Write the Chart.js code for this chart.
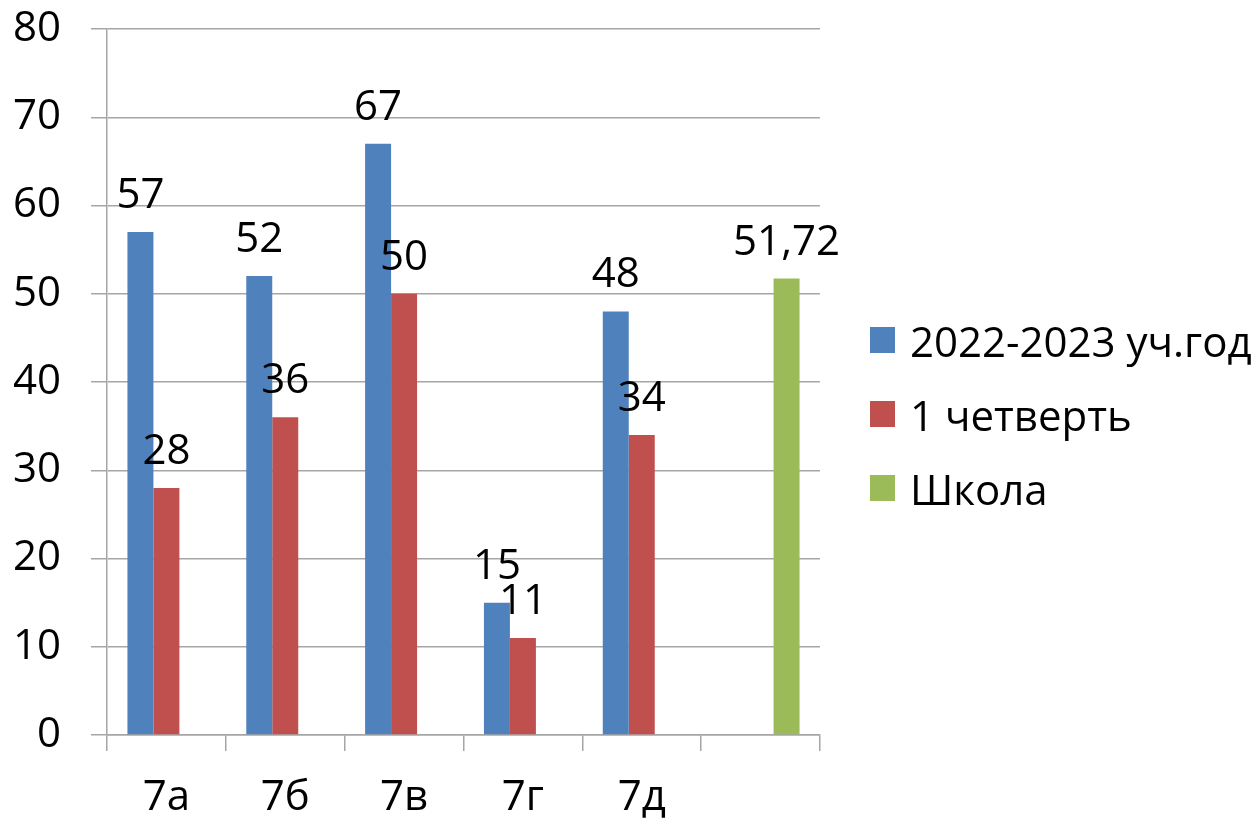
<!DOCTYPE html>
<html>
<head>
<meta charset="utf-8">
<script src="https://cdn.jsdelivr.net/npm/chart.js@4"></script>
<style>
  body { margin: 0; background: #fff; }
  #wrap { position: relative; width: 1259px; height: 820px; }
  #legend { position: absolute; left: 870px; top: 303px; font-family: "Open Sans", sans-serif; font-size: 42px; color: #000; }
  .item { display: flex; align-items: center; height: 74px; white-space: nowrap; }
  .box { width: 25px; height: 26px; margin-right: 15px; }
</style>
</head>
<body>
<div id="wrap">
  <canvas id="chart" width="1259" height="820"></canvas>
  <div id="legend"></div>
</div>
<script>
// данные диаграммы
const categories = ['7а', '7б', '7в', '7г', '7д', ''];
const yearValues = [57, 52, 67, 15, 48, null];
const quarterValues = [28, 36, 50, 11, 34, null];
const schoolValues = [null, null, null, null, null, 51.72];
const seriesNames = ['2022-2023 уч.год', '1 четверть', 'Школа'];
const seriesColors = ['#4F81BD', '#C0504D', '#9BBB59'];

const FONT = { family: '"Open Sans", sans-serif', size: 42 };
const GRID = '#A6A6A6';

// подписи значений над столбцами
const valueLabels = {
    id: 'valueLabels',
    afterDatasetsDraw(chart) {
        const ctx = chart.ctx;
        ctx.save();
        ctx.font = `${FONT.size}px ${FONT.family}`;
        ctx.fillStyle = '#000';
        ctx.textAlign = 'center';
        ctx.textBaseline = 'alphabetic';
        chart.data.datasets.forEach((ds, i) => {
            chart.getDatasetMeta(i).data.forEach((bar, j) => {
                const v = ds.data[j];
                if (v === null) return;
                ctx.fillText(String(v).replace('.', ','), bar.x, bar.y - 24);
            });
        });
        ctx.restore();
    }
};

new Chart(document.getElementById('chart'), {
    type: 'bar',
    data: {
        labels: categories,
        datasets: [
            { label: seriesNames[0], data: yearValues, backgroundColor: seriesColors[0] },
            { label: seriesNames[1], data: quarterValues, backgroundColor: seriesColors[1] },
            { label: seriesNames[2], data: schoolValues, backgroundColor: seriesColors[2] }
        ]
    },
    options: {
        responsive: false,
        animation: false,
        layout: { padding: { left: 14, right: 439, top: 29, bottom: 0 } },
        datasets: { bar: { categoryPercentage: 0.656, barPercentage: 1 } },
        plugins: { legend: { display: false }, tooltip: { enabled: false } },
        scales: {
            x: {
                afterFit: (scale) => { scale.height = 85; scale.paddingLeft = 0; scale.paddingRight = 0; },
                grid: { offset: true, drawOnChartArea: false, color: GRID, lineWidth: 1.5, tickLength: 16 },
                border: { color: GRID, width: 1.5 },
                ticks: { font: FONT, color: '#000', padding: 22 }
            },
            y: {
                min: 0, max: 80,
                afterFit: (scale) => { scale.width = 93; scale.paddingTop = 0; scale.paddingBottom = 0; },
                grid: { color: GRID, lineWidth: 1.5, tickLength: 16 },
                border: { color: GRID, width: 1.5 },
                ticks: { stepSize: 10, font: FONT, color: '#000', padding: 30 }
            }
        }
    },
    plugins: [valueLabels]
});

// легенда справа
document.getElementById('legend').innerHTML = seriesNames.map((name, i) => `
    <div class="item"><span class="box" style="background:${seriesColors[i]}"></span>${name}</div>
`).join('');
</script>
</body>
</html>
